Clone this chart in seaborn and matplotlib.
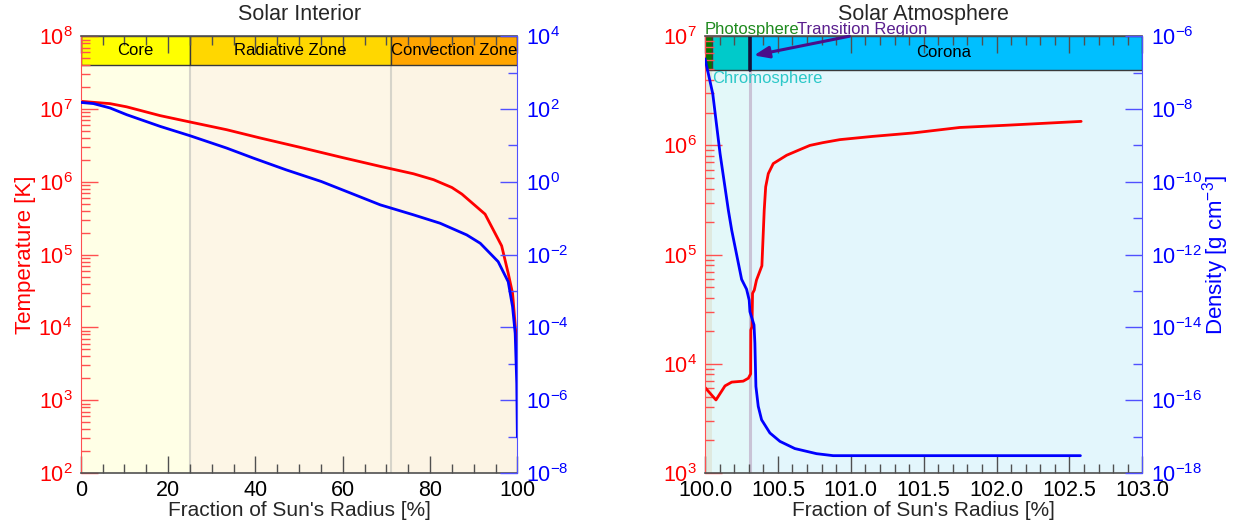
import matplotlib
matplotlib.use("Agg")
import matplotlib.pyplot as plt
from matplotlib.ticker import LogLocator, MultipleLocator, NullFormatter, FormatStrFormatter
import numpy as np
import pandas as pd
import seaborn as sns

# ---------------- data ----------------
# Solar interior: fraction of radius [%], temperature [K], density [g cm^-3]
interior_t_radius = [0, 6.7, 10.5, 18.2, 25, 33.4, 41.1, 50, 60, 68.6, 76.2, 80.8,
                     85.0, 87.3, 92.6, 96.4, 97.9, 98.9, 99.6, 99.9]
interior_temperature = [1.276e7, 1.186e7, 1.072e7, 8.11e6, 6.64e6, 5.20e6, 4.00e6,
                        3.00e6, 2.15e6, 1.63e6, 1.29e6, 1.07e6, 8.36e5, 6.78e5,
                        3.60e5, 1.32e5, 5.55e4, 2.94e4, 9.1e3, 5.75e3]
interior_d_radius = [0, 2.9, 6.7, 10.5, 18.2, 25, 33.4, 39.5, 47, 55.1, 62, 68.6,
                     76.2, 82.3, 88.4, 91.5, 95.6, 97.9, 98.9, 99.5, 99.86, 100]
interior_density = [152, 141, 107, 70.0, 33.3, 18.5, 8.47, 4.50, 2.14, 1.02, 0.48,
                    0.233, 0.124, 0.0729, 0.0348, 0.0205, 6.41e-3, 1.80e-3, 3.70e-4,
                    6.85e-5, 2.88e-6, 9.8e-8]

# Solar atmosphere
atmos_t_radius = [100.000, 100.075, 100.137, 100.183, 100.262, 100.297, 100.313,
                  100.314, 100.322, 100.326, 100.338, 100.353, 100.390, 100.406,
                  100.416, 100.434, 100.468, 100.560, 100.651, 100.719, 100.808,
                  100.925, 101.151, 101.425, 101.747, 102.066, 102.580]
atmos_temperature = [6070, 4670, 6280, 6800, 6940, 7380, 8090, 20400, 21900, 44200,
                     47400, 58500, 79000, 2.55e5, 4.17e5, 5.52e5, 6.82e5, 8.13e5,
                     9.16e5, 1.00e6, 1.06e6, 1.13e6, 1.21e6, 1.30e6, 1.46e6, 1.53e6,
                     1.66e6]
atmos_d_radius = [100.000, 100.053, 100.103, 100.160, 100.183, 100.251, 100.285,
                  100.303, 100.308, 100.336, 100.342, 100.349, 100.365, 100.388,
                  100.445, 100.514, 100.616, 100.765, 100.879, 101.336, 102.575]
atmos_density = [2.4e-7, 2.63e-8, 6.0e-10, 1.66e-11, 4.68e-12, 2.09e-13, 1.12e-13,
                 5.6e-14, 2.7e-14, 1.17e-14, 3.7e-15, 2.4e-16, 6.8e-17, 2.9e-17,
                 1.26e-17, 7.4e-18, 4.7e-18, 3.4e-18, 3.0e-18, 3.0e-18, 3.0e-18]

# zones: (name, start, end, band colour, background colour)
interior_zones = [("Core", 0, 25, "#FFFF00", "#FFFFE6"),
                  ("Radiative Zone", 25, 71, "#FFD700", "#FDF6E6"),
                  ("Convection Zone", 71, 100, "#FFA500", "#FCF4E4")]
atmos_zones = [("Photosphere", 100.0, 100.05, "#007A00", "#DFE9DF"),
               ("Chromosphere", 100.05, 100.31, "#00CACA", "#E3F8F9"),
               ("Corona", 100.31, 103.0, "#00BFFF", "#E3F6FC")]
transition_radius = 100.31

# ---------------- style ----------------
sns.set_style("ticks")
plt.rcParams["font.family"] = ["Liberation Sans", "DejaVu Sans"]
plt.rcParams["mathtext.fontset"] = "custom"
plt.rcParams["mathtext.rm"] = "Liberation Sans"
plt.rcParams["mathtext.it"] = "Liberation Sans:italic"
plt.rcParams["axes.unicode_minus"] = False

RED = "#FF0000"
BLUE = "#0000FF"
RED_AX = "#FF5050"
BLUE_AX = "#5050FF"
GREY_AX = "#505050"

fig = plt.figure(figsize=(12.33, 5.25), dpi=100)
ax1 = fig.add_axes([0.0655, 0.099, 0.3541, 0.832])
ax2 = fig.add_axes([0.5718, 0.099, 0.3547, 0.832])


def style_axes(ax, tw, xmajor, xminor, tlim, dlim, dmajor_step):
    ax.set_yscale("log")
    tw.set_yscale("log")
    ax.set_ylim(*tlim)
    tw.set_ylim(*dlim)
    ax.xaxis.set_major_locator(MultipleLocator(xmajor))
    ax.xaxis.set_minor_locator(MultipleLocator(xminor))
    ax.yaxis.set_major_locator(LogLocator(base=10, numticks=20))
    ax.yaxis.set_minor_locator(LogLocator(base=10, subs=np.arange(2, 10), numticks=20))
    ax.yaxis.set_minor_formatter(NullFormatter())
    tw.yaxis.set_major_locator(LogLocator(base=10 ** dmajor_step, numticks=20))
    tw.yaxis.set_minor_locator(LogLocator(base=10 ** dmajor_step, subs=[10.0], numticks=20))
    tw.yaxis.set_minor_formatter(NullFormatter())

    ax.tick_params(axis="x", which="both", direction="in", top=True, bottom=True,
                   colors=GREY_AX, labelcolor="black", labelsize=15.5, pad=5)
    ax.tick_params(axis="x", which="major", length=12.5, width=1)
    ax.tick_params(axis="x", which="minor", length=6.5, width=1)
    ax.tick_params(axis="y", which="both", direction="in", left=True, right=False,
                   colors=RED_AX, labelcolor=RED, labelsize=15.5, pad=6)
    ax.tick_params(axis="y", which="major", length=12.5, width=1)
    ax.tick_params(axis="y", which="minor", length=6.2, width=1)
    tw.tick_params(axis="y", which="both", direction="in", right=True, left=False,
                   colors=BLUE_AX, labelcolor=BLUE, labelsize=15.5, pad=6)
    tw.tick_params(axis="y", which="major", length=12.5, width=1)
    tw.tick_params(axis="y", which="minor", length=6.5, width=1)

    ax.spines["left"].set_color(RED_AX)
    ax.spines["right"].set_visible(False)
    for s in ("top", "bottom"):
        ax.spines[s].set_color(GREY_AX)
        ax.spines[s].set_linewidth(1.2)
    tw.spines["right"].set_color(BLUE_AX)
    for s in ("left", "top", "bottom"):
        tw.spines[s].set_visible(False)
    ax.set_xlabel("Fraction of Sun's Radius [%]", fontsize=15, labelpad=0)


def draw_band(ax, zones, band_frac):
    for name, x0, x1, band_col, bg_col in zones:
        ax.axvspan(x0, x1, ymin=0, ymax=1, facecolor=bg_col, edgecolor="none", zorder=0.1)
        ax.axvspan(x0, x1, ymin=1 - band_frac, ymax=1, facecolor=band_col,
                   edgecolor="#3A3A3A", linewidth=1.0, zorder=0.5)


# ---------------- left: solar interior ----------------
tw1 = ax1.twinx()
draw_band(ax1, interior_zones, 0.066)
for x in (25, 71):
    ax1.axvline(x, color="#D6D4CA", linewidth=1.5, zorder=0.3)
for name, x0, x1, _, _ in interior_zones:
    ax1.text((x0 + x1) / 2, 0.967, name, transform=ax1.get_xaxis_transform(),
             ha="center", va="center", fontsize=12, color="black", zorder=3)

sns.lineplot(x=interior_t_radius, y=interior_temperature, ax=ax1, color=RED,
             linewidth=2.0, sort=False, estimator=None, zorder=2)
sns.lineplot(x=interior_d_radius, y=interior_density, ax=tw1, color=BLUE,
             linewidth=2.0, sort=False, estimator=None, zorder=2)
ax1.set_xlim(0, 100)
style_axes(ax1, tw1, 20, 5, (1e2, 1e8), (1e-8, 1e4), 2)
ax1.set_ylabel("Temperature [K]", color=RED, fontsize=16, labelpad=2)
ax1.set_title("Solar Interior", fontsize=15.5, pad=12)

# ---------------- right: solar atmosphere ----------------
tw2 = ax2.twinx()
draw_band(ax2, atmos_zones, 0.077)
ax2.axvline(transition_radius, color="#C9C3D6", linewidth=2.2, zorder=0.3)
ax2.axvline(transition_radius, ymin=1 - 0.077, ymax=1, color="#14103A",
            linewidth=2.6, zorder=0.6)

sns.lineplot(x=atmos_t_radius, y=atmos_temperature, ax=ax2, color=RED,
             linewidth=2.0, sort=False, estimator=None, zorder=2)
sns.lineplot(x=atmos_d_radius, y=atmos_density, ax=tw2, color=BLUE,
             linewidth=2.0, sort=False, estimator=None, zorder=2)
ax2.set_xlim(100, 103)
style_axes(ax2, tw2, 0.5, 0.1, (1e3, 1e7), (1e-18, 1e-6), 2)
ax2.xaxis.set_major_formatter(FormatStrFormatter("%.1f"))
tw2.set_ylabel("Density [g cm$^{-3}$]", color=BLUE, fontsize=16, labelpad=-1)
ax2.set_title("Solar Atmosphere", fontsize=15.5, pad=12)

xt = ax2.get_xaxis_transform()
ax2.text(100.0, 1.004, "Photosphere", transform=xt, ha="left", va="baseline",
         fontsize=12, color="#1E8A1E", zorder=0.4, clip_on=False)
ax2.text(100.628, 1.004, "Transition Region", transform=xt, ha="left", va="baseline",
         fontsize=12, color="#5A1E8E", zorder=0.4, clip_on=False)
ax2.text(100.05, 0.921, "Chromosphere", transform=xt, ha="left", va="top",
         fontsize=12, color="#2CC8C8", zorder=5)
ax2.text(101.64, 0.962, "Corona", transform=xt, ha="center", va="center",
         fontsize=12, color="black", zorder=5)
ax2.annotate("", xy=(100.335, 0.956), xycoords=xt, xytext=(100.99, 1.0),
             textcoords=xt,
             arrowprops=dict(arrowstyle="-|>,head_length=0.9,head_width=0.35",
                             color="#4A0E8A", lw=2.2, shrinkA=0, shrinkB=0),
             zorder=6, annotation_clip=False)

fig.savefig("out.png", dpi=100)
